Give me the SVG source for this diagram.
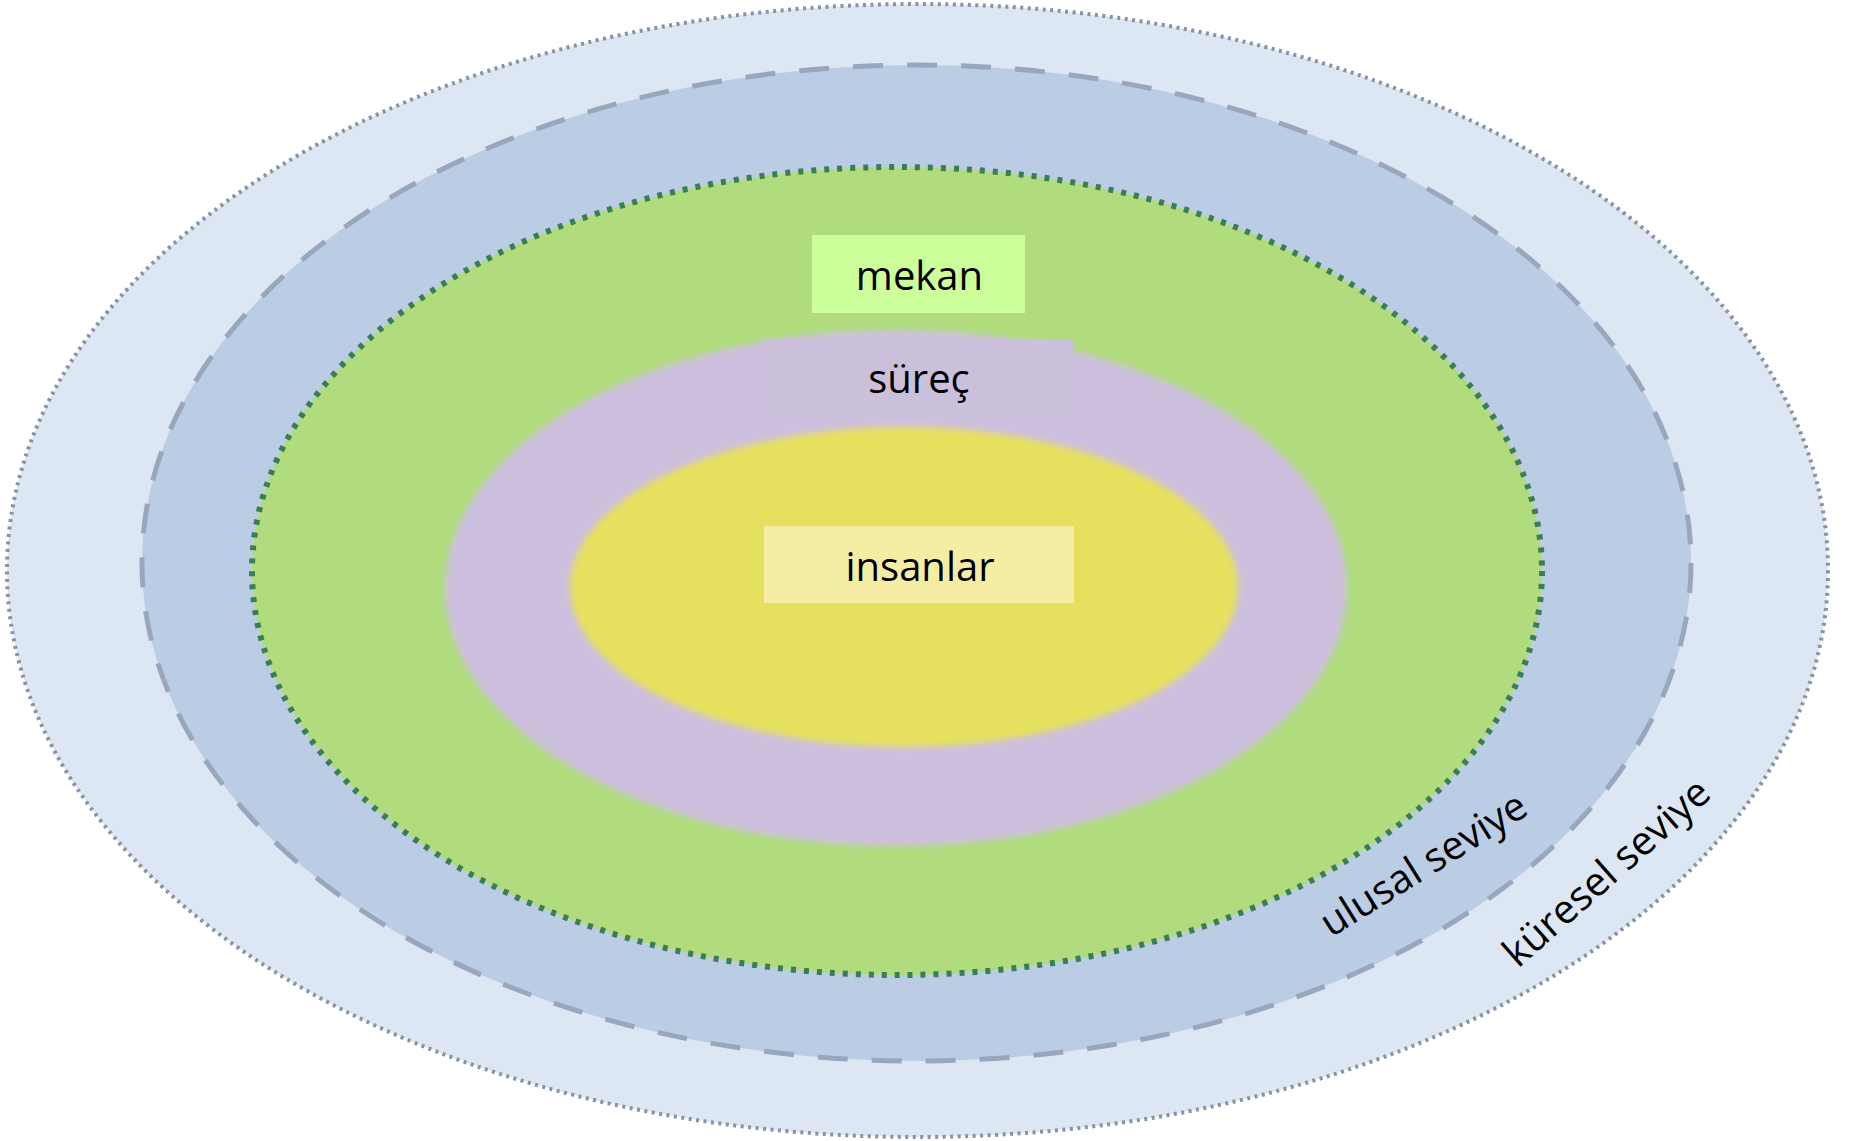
<svg xmlns="http://www.w3.org/2000/svg" width="1862" height="1141" viewBox="0 0 1862 1141">
  <defs>
    <filter id="soft" x="-5%" y="-5%" width="110%" height="110%">
      <feGaussianBlur stdDeviation="3"/>
    </filter>
  </defs>
  <style>
    .lbl { font-family: "Open Sans", "Noto Sans", "DejaVu Sans", sans-serif; font-size: 40px; fill: #000000; }
    .mid { text-anchor: middle; }
  </style>
  <rect x="0" y="0" width="1862" height="1141" fill="#ffffff"/>

  <g id="kuresel-seviye">
    <ellipse cx="917.5" cy="570.5" rx="910.5" ry="566.5" fill="#dde7f3" stroke="#8a93a3" stroke-width="4" stroke-dasharray="3 4.5"/>
  </g>

  <g id="ulusal-seviye">
    <ellipse cx="916.5" cy="563" rx="774.5" ry="498" fill="#bacde5" stroke="#99a7be" stroke-width="5" stroke-dasharray="30 24"/>
  </g>

  <g id="mekan-ring">
    <ellipse cx="897" cy="571" rx="645" ry="404" fill="#b0dc7d" stroke="#3a7e55" stroke-width="6" stroke-dasharray="5 8"/>
  </g>

  <g id="surec-ring">
    <ellipse cx="896" cy="588" rx="451" ry="258" fill="#cdc0de" filter="url(#soft)"/>
    <rect x="763" y="340" width="310" height="77" fill="#cbc0dc"/>
  </g>

  <g id="insanlar-core">
    <ellipse cx="904" cy="587" rx="334" ry="160" fill="#e6e05f" filter="url(#soft)"/>
  </g>

  <g id="mekan">
    <rect x="812" y="235" width="213" height="78" fill="#ccff99"/>
    <text class="lbl mid" x="919.5" y="290">mekan</text>
  </g>

  <g id="surec">
    <text class="lbl mid" x="919" y="393">süreç</text>
  </g>

  <g id="insanlar">
    <rect x="764" y="526" width="310" height="77" fill="#f6eda5"/>
    <text class="lbl mid" x="920" y="581">insanlar</text>
  </g>

  <g id="ulusal-label">
    <text class="lbl" transform="translate(1331,938) rotate(-32)">ulusal seviye</text>
  </g>

  <g id="kuresel-label">
    <text class="lbl" transform="translate(1518,969) rotate(-41.5)">küresel seviye</text>
  </g>

  <g id="connectors"></g>
</svg>
